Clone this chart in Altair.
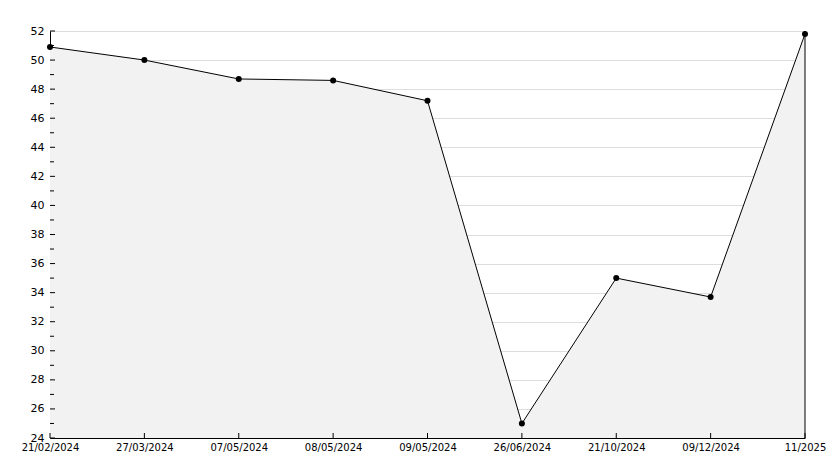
import altair as alt
import pandas as pd

dates = ["21/02/2024", "27/03/2024", "07/05/2024", "08/05/2024", "09/05/2024",
         "26/06/2024", "21/10/2024", "09/12/2024", "11/2025"]
values = [50.9, 50.0, 48.7, 48.6, 47.2, 25.0, 35.0, 33.7, 51.8]
y_ticks = list(range(24, 53, 2))
y_minor = list(range(25, 52, 2))

W, H = 755, 407
FONT = "DejaVu Sans"

df = pd.DataFrame({"date": dates, "value": values})
xscale = alt.Scale(type="point", padding=0, domain=dates)
yscale = alt.Scale(domain=[24, 52], zero=False, nice=False)

xax = alt.Axis(title=None, labelAngle=0, ticks=False, domain=True, domainColor="black",
               labelFont=FONT, labelFontSize=10, labelColor="black", labelPadding=4,
               grid=False, labelOverlap=False, labelFlush=False)
yax = alt.Axis(title=None, values=y_ticks, ticks=False, domain=True, domainColor="black",
               labelFont=FONT, labelFontSize=11, labelColor="black", labelPadding=6,
               labelOverlap=False, labelFlush=False,
               grid=True, gridColor="#dddddd", gridWidth=1)


def X(field="date:N"):
    return alt.X(field, scale=xscale, axis=xax, sort=dates, title=None)


def Y(field):
    return alt.Y(field, scale=yscale, axis=yax, title=None)


base = alt.Chart(df)

area = base.mark_area(color="#f2f2f2", opacity=1).encode(
    x=X(), y=Y("value:Q"), y2=alt.datum(24),
)
line = base.mark_line(color="black", strokeWidth=1).encode(
    x=X(), y=Y("value:Q"),
)
pts = base.mark_point(filled=True, color="black", size=36, opacity=1).encode(
    x=X(), y=Y("value:Q"),
)
right_border = alt.Chart(pd.DataFrame({"date": [dates[-1]]})).mark_rule(color="black").encode(
    x=X(), y=alt.value(0), y2=alt.value(H),
)
ymaj = alt.Chart(pd.DataFrame({"value": y_ticks})).mark_rule(color="black").encode(
    y=Y("value:Q"), x=alt.value(0), x2=alt.value(5),
)
ymin = alt.Chart(pd.DataFrame({"value": y_minor})).mark_rule(color="black").encode(
    y=Y("value:Q"), x=alt.value(0), x2=alt.value(4),
)
xt = alt.Chart(pd.DataFrame({"date": dates})).mark_rule(color="black").encode(
    x=X(), y=alt.value(H - 5), y2=alt.value(H),
)

chart = alt.layer(area, line, right_border, ymaj, ymin, xt, pts).properties(
    width=W, height=H,
    padding={"left": 42, "top": 23, "right": 21, "bottom": 22},
    autosize=alt.AutoSizeParams(type="none"),
    background="white",
).configure_view(stroke=None)

chart.save("out.html", embed_options={"renderer": "svg", "actions": False})
